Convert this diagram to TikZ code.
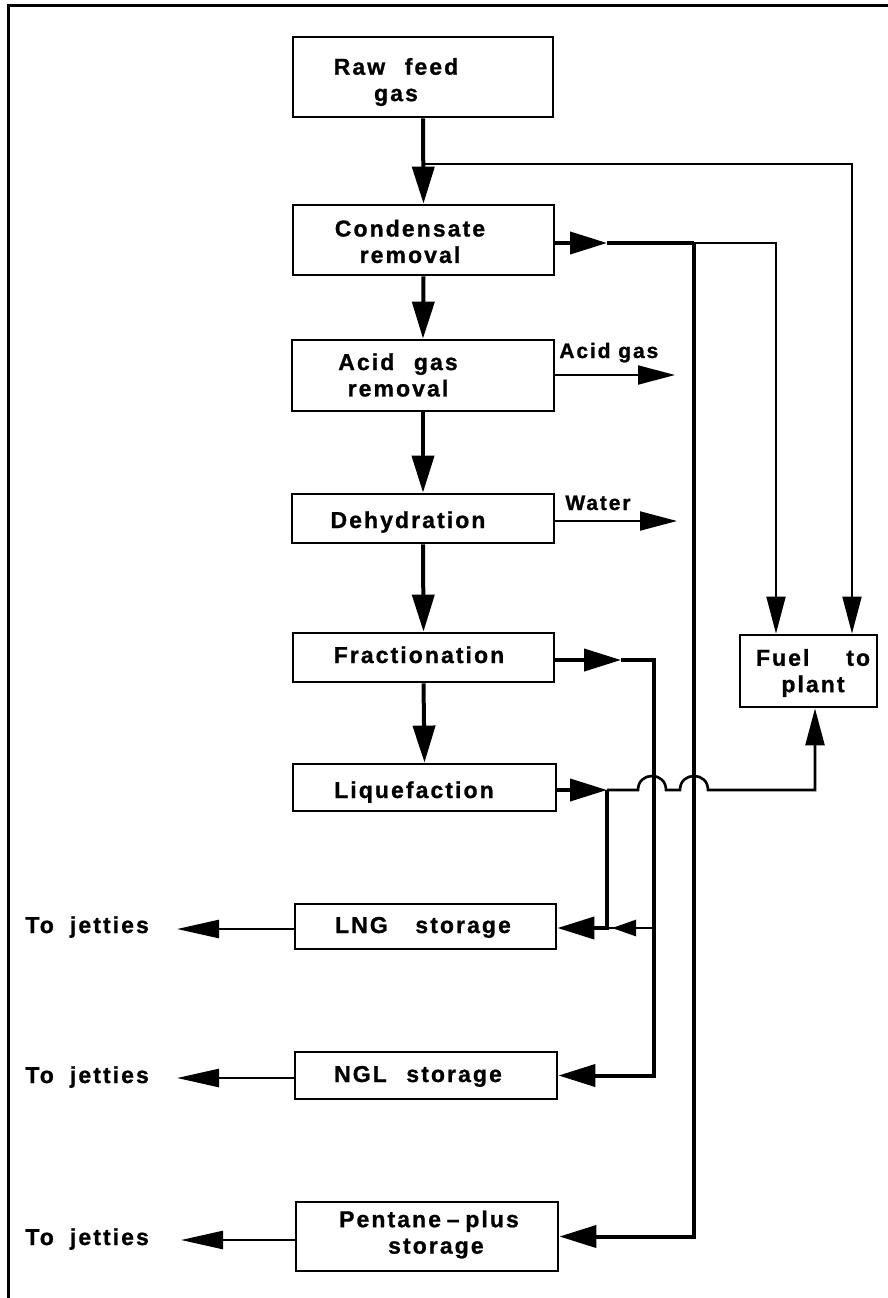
\documentclass[tikz,border=0pt]{standalone}
\usepackage{fontspec}
\setmainfont{Liberation Sans}[LetterSpace=9, BoldFeatures={FakeBold=1}]
\usetikzlibrary{arrows.meta}
\newcommand\wgap{\hspace{0.85em}}
\begin{document}
\begin{tikzpicture}[x=0.5pt,y=-0.5pt,
  box/.style={draw, line width=1.4pt, inner sep=0pt},
  lbl/.style={font=\bfseries\fontsize{11.5}{13.2}\selectfont, inner sep=0pt, align=center},
  sml/.style={font=\bfseries\fontsize{10.5}{12}\selectfont, inner sep=0pt},
  thk/.style={line width=2pt},
  med/.style={line width=1.3pt},
  thn/.style={line width=1pt},
  bigarr/.tip={Triangle[length=18.5pt,width=11pt]},
  thinarr/.tip={Triangle[length=18.5pt,width=9.5pt]},
  jetarr/.tip={Triangle[length=21pt,width=9pt]},
  smallarr/.tip={Triangle[length=12pt,width=8pt]}]
\useasboundingbox (0,0) rectangle (888,1298);
% frame
\draw[line width=1.5pt] (888,5.5) -- (8.5,5.5) -- (8.5,1298);
% boxes
\node[box, minimum width=130pt, minimum height=40pt]   (raw)  at (423,77) {};
\node[box, minimum width=130.5pt, minimum height=35pt] (cond) at (423.5,240) {};
\node[box, minimum width=131pt, minimum height=35.5pt] (acid) at (423,375.5) {};
\node[box, minimum width=131pt, minimum height=24.5pt] (dehy) at (423,518.5) {};
\node[box, minimum width=130.5pt, minimum height=24.5pt] (frac) at (423.5,657.5) {};
\node[box, minimum width=131.5pt, minimum height=23.5pt] (liq)  at (424.5,787.5) {};
\node[box, minimum width=130.5pt, minimum height=22.5pt] (lng)  at (425.5,926.5) {};
\node[box, minimum width=131pt, minimum height=23.5pt] (ngl)  at (426,1075.5) {};
\node[box, minimum width=131pt, minimum height=34.5pt] (pent) at (427,1236.5) {};
\node[box, minimum width=68.5pt, minimum height=36pt]  (fuel) at (808.5,671) {};
% box texts
\node[lbl] (rawt)  at (396,82)    {Raw\wgap feed\\gas};
\node[lbl] (condt) at (410,241.5) {Condensate\\removal};
\node[lbl] (acidt) at (398,375)   {Acid\wgap gas\\removal};
\node[lbl, anchor=base] (dehyt) at (408,528) {Dehydration};
\node[lbl, anchor=base] (fract) at (419,663) {Fractionation};
\node[lbl, anchor=base] (liqt)  at (414,798) {Liquefaction};
\node[lbl, anchor=base] (lngt)  at (423,933) {LNG\hspace{1.2em}storage};
\node[lbl, anchor=base] (nglt)  at (418,1082) {NGL\wgap storage};
\node[lbl] (pentt) at (429,1234.5) {Pentane\hspace{0.25em}–\hspace{0.25em}plus\\\hspace{0.6em}storage};
\node[lbl] (fuelt) at (813,673)   {Fuel\hspace{1.6em}to\\plant};
% side labels
\node[sml, anchor=base west] (agl) at (559,358) {Acid gas};
\node[sml, anchor=base west] (wal) at (565,510) {Water};
\node[lbl, anchor=base west] (tj1) at (25,933)  {To\hspace{0.7em}jetties};
\node[lbl, anchor=base west] (tj2) at (25,1083) {To\hspace{0.7em}jetties};
\node[lbl, anchor=base west] (tj3) at (25,1245) {To\hspace{0.7em}jetties};
% junction coordinates
\coordinate (j0)  at (423,164);
\coordinate (f2)  at (852,164);
\coordinate (c1)  at (607,243);
\coordinate (c2)  at (694,243);
\coordinate (c3)  at (776,243);
\coordinate (ag)  at (675,375);
\coordinate (wa)  at (677,521);
\coordinate (fr1) at (621,660);
\coordinate (fr2) at (653.5,660);
\coordinate (fr3) at (653.5,928);
\coordinate (sm)  at (612,928);
\coordinate (lq1) at (607,790);
\coordinate (lq3) at (607,928);
\coordinate (fb)  at (815,790);
\coordinate (e1)  at (177,929);
\coordinate (e2)  at (177,1078);
\coordinate (e3)  at (181,1240);
% main line
\draw[thk,-bigarr] (raw.south) -- (cond.north);
\draw[thk,-bigarr] (cond.south) -- (acid.north);
\draw[thk,-bigarr] (acid.south) -- (dehy.north);
\draw[thk,-bigarr] (dehy.south) -- (frac.north);
\draw[thk,-bigarr] (frac.south) -- (liq.north);
% raw gas to fuel
\draw[thn,-thinarr] (j0) -- (f2) -- (fuel.north -| f2);
% condensate
\draw[thk,-bigarr] (cond.east |- c1) -- (c1);
\draw[thk] (c1) -- (c2);
\draw[thk,-bigarr] (c2) -- (c2 |- pent.east) -- (pent.east);
\draw[thn,-thinarr] (c2) -- (c3) -- (fuel.north -| c3);
% acid gas, water
\draw[thn,-thinarr] (acid.east |- ag) -- (ag);
\draw[thn,-thinarr] (dehy.east |- wa) -- (wa);
% fractionation
\draw[thk,-bigarr] (frac.east |- fr1) -- (fr1);
\draw[thk,-bigarr] (fr1) -- (fr2) -- (ngl.east -| fr2) -- (ngl.east);
\draw[med] (fr3) -- (lq3);
\draw[med,-smallarr] (fr3) -- (sm);
% liquefaction
\draw[thk,-bigarr] (liq.east |- lq1) -- (lq1);
\draw[thk,-bigarr] (lq1) -- (lq3) -- (lng.east |- lq3);
\draw[med,-thinarr] (lq1) -- (638,790) .. controls (638,771.3) and (666,771.3) .. (666,790)
   -- (680,790) .. controls (680,771.3) and (708,771.3) .. (708,790) -- (fb) -- (fuel.south -| fb);
% to jetties
\draw[med,-jetarr] (lng.west |- e1) -- (e1);
\draw[med,-jetarr] (ngl.west |- e2) -- (e2);
\draw[med,-jetarr] (pent.west |- e3) -- (e3);
\end{tikzpicture}
\end{document}
